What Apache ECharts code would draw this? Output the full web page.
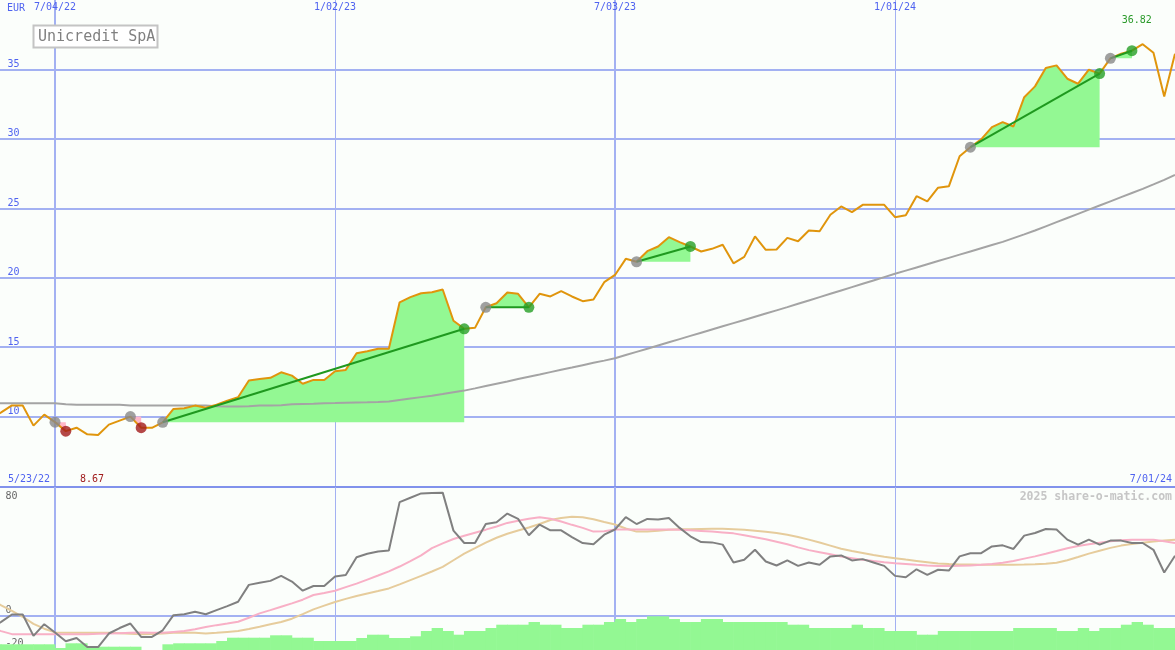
<!DOCTYPE html>
<html><head><meta charset="utf-8">
<script src="https://cdn.jsdelivr.net/npm/echarts@6/dist/echarts.min.js"></script>
<style>html,body{margin:0;padding:0;background:#fbfefb}#c{width:1175px;height:650px}</style>
</head><body><div id="c"></div>
<script>
const stockName = 'Unicredit SpA';
const currency = 'EUR';
const watermark = '2025 share-o-matic.com';
const dates = ['5/23/22','5/30/22','6/06/22','6/13/22','6/20/22','6/27/22','7/04/22','7/11/22','7/18/22','7/25/22','8/01/22','8/08/22','8/15/22','8/22/22','8/29/22','9/05/22','9/12/22','9/19/22','9/26/22','10/03/22','10/10/22','10/17/22','10/24/22','10/31/22','11/07/22','11/14/22','11/21/22','11/28/22','12/05/22','12/12/22','12/19/22','12/26/22',
'1/02/23','1/09/23','1/16/23','1/23/23','1/30/23','2/06/23','2/13/23','2/20/23','2/27/23','3/06/23','3/13/23','3/20/23','3/27/23','4/03/23','4/10/23','4/17/23','4/24/23','5/01/23','5/08/23','5/15/23','5/22/23','5/29/23','6/05/23','6/12/23','6/19/23','6/26/23',
'7/03/23','7/10/23','7/17/23','7/24/23','7/31/23','8/07/23','8/14/23','8/21/23','8/28/23','9/04/23','9/11/23','9/18/23','9/25/23','10/02/23','10/09/23','10/16/23','10/23/23','10/30/23','11/06/23','11/13/23','11/20/23','11/27/23','12/04/23','12/11/23','12/18/23','12/25/23',
'1/01/24','1/08/24','1/15/24','1/22/24','1/29/24','2/05/24','2/12/24','2/19/24','2/26/24','3/04/24','3/11/24','3/18/24','3/25/24','4/01/24','4/08/24','4/15/24','4/22/24','4/29/24','5/06/24','5/13/24','5/20/24','5/27/24','6/03/24','6/10/24','6/17/24','6/24/24','7/01/24'];
const price = [9.9,10.3,10.8,10.8,9.35,10.14,9.6,8.95,9.2,8.72,8.67,9.42,9.71,10.0,9.2,9.19,9.59,10.55,10.6,10.79,10.63,10.85,11.15,11.39,12.6,12.7,12.79,13.19,12.95,12.36,12.64,12.64,
13.26,13.36,14.56,14.7,14.88,14.88,18.23,18.6,18.88,18.96,19.15,16.9,16.32,16.39,17.87,18.16,18.93,18.84,17.87,18.84,18.65,19.03,18.65,18.31,18.43,19.68,
20.2,21.36,21.15,21.91,22.25,22.92,22.56,22.25,21.89,22.08,22.37,21.04,21.5,22.97,22.01,22.03,22.87,22.63,23.4,23.35,24.53,25.13,24.72,25.25,25.25,25.25,
24.36,24.5,25.87,25.5,26.48,26.58,28.75,29.4,29.96,30.84,31.2,30.89,33.0,33.78,35.1,35.29,34.33,33.97,34.98,34.7,35.8,36.13,36.35,36.82,36.2,33.05,36.13];
const ma52 = [10.96,10.96,10.96,10.96,10.96,10.96,10.96,10.88,10.86,10.86,10.86,10.86,10.86,10.8,10.79,10.79,10.79,10.79,10.79,10.79,10.79,10.75,10.73,10.73,10.75,10.79,10.8,10.82,10.88,10.9,10.92,10.96,
10.97,11.0,11.02,11.03,11.05,11.08,11.2,11.3,11.4,11.5,11.62,11.75,11.87,12.03,12.2,12.37,12.53,12.7,12.87,13.03,13.2,13.37,13.53,13.7,13.87,14.03,
14.2,14.43,14.66,14.89,15.12,15.35,15.58,15.81,16.04,16.27,16.5,16.73,16.96,17.19,17.42,17.65,17.88,18.12,18.36,18.6,18.84,19.08,19.32,19.56,19.8,20.04,
20.28,20.51,20.74,20.97,21.2,21.43,21.66,21.89,22.12,22.35,22.58,22.85,23.12,23.4,23.7,24.0,24.3,24.6,24.9,25.2,25.5,25.8,26.1,26.4,26.72,27.05,27.4];
const osc = [-8,-3.8,0.8,0.8,-12.5,-5.2,-10.4,-15.8,-13.75,-19.4,-19.4,-11,-7.6,-4.8,-13.1,-13.1,-9,0.4,1,2.5,1,3.5,6,8.75,19.2,20.5,21.7,24.8,21.25,15.6,18.5,18.5,
24.4,25.4,36.4,38.5,40,40.6,70.6,73.3,76,76.3,76.5,52.9,45.2,45.2,57,58.1,63.5,60.2,50,56.7,53.1,53.1,48.9,45.2,44.4,50.4,
53.6,61.25,57,60.2,59.8,60.8,54.6,49.4,45.8,45.6,44.2,33.1,34.8,41,33.75,31.25,34.4,31,33.1,31.7,36.9,37.5,34.4,35.2,33.1,31,
24.8,23.9,28.9,25.4,28.6,28.1,36.9,38.9,38.9,43.1,43.75,41.5,49.8,51.4,53.9,53.6,47.3,44.2,47.3,44.2,46.7,46.7,45.2,45.2,41,26.9,37.3];
const oscFast = [-7.5,-9.5,-11.4,-11.4,-11.4,-11.4,-11.4,-11.4,-11.4,-11.4,-11.2,-11,-10.8,-10.6,-10.4,-10.6,-10.6,-10,-9.4,-8.4,-7,-5.8,-4.8,-3.7,-1.2,1.5,3.5,5.6,7.7,10,12.9,14.2,
15.6,17.8,20,22.5,25,27.6,30.6,34,37.5,42,45,47.7,49.7,51.6,53.5,55.5,57.7,59,60.3,61.25,60.3,58.6,56.5,54.6,52.3,52.5,
53.6,53.6,53.6,53.6,53.6,53.6,53.4,53.1,52.7,52.3,51.8,51.2,50,48.8,47.5,46,44.4,42.5,40.8,39.5,38.2,36.8,35.8,34.8,34,33.3,
32.7,32.2,31.7,31.3,31,31,31.1,31.3,31.7,32.2,33,34,35.5,36.9,38.5,40.2,42,43.4,44.5,45.4,46.3,46.9,47.2,47.3,47.3,46.3,45.2];
const oscSlow = [10,6.5,3,-0.6,-5,-8,-10.3,-10.6,-10.6,-10.6,-10.6,-10.6,-10.8,-11.2,-11.5,-11.3,-11,-10.6,-10.4,-10.6,-11,-10.6,-10,-9.4,-8.2,-6.8,-5.3,-3.9,-1.8,1,4,6.3,
8.6,10.5,12.3,13.9,15.4,17,19.5,22.2,24.8,27.5,30.4,34.5,38.6,42,45.5,48.5,51,53,54.8,57,59.5,60.8,61.5,61.2,60,58.3,
56.7,54.2,52.3,52.3,52.8,53.4,53.7,53.8,53.9,54,54,53.8,53.4,52.9,52.2,51.4,50.4,49,47.3,45.5,43.6,41.6,40.2,39,37.8,36.7,
35.8,34.9,34.1,33.3,32.5,32.1,31.9,31.8,31.7,31.7,31.7,31.7,31.8,32,32.4,33,34.5,36.5,38.6,40.4,42.2,43.6,44.6,45.4,46.2,46.8,47.3];
const volume = [5.7,5.7,5.7,5.7,5.7,5.7,2,6.7,6.7,3.3,3.3,3.3,3.3,3.3,0,0,5.7,6.7,6.7,6.7,6.7,9,12.3,12.3,12.3,12.3,14.7,14.7,12.3,12.3,9,9,9,9,12,15.3,15.3,12,12,13.7,19,22,19,15.3,19,19,22,25.3,25.3,25.3,28,25.3,25.3,22,22,25.3,25.3,28,31,28,31,33.7,33.7,31,28,28,31,31,28,28,28,28,28,28,25.3,25.3,22,22,22,22,25.3,22,22,19,19,19,15.3,15.3,19,19,19,19,19,19,19,22,22,22,22,19,19,22,19,22,22,25.3,28,25.3,22,22,22];
const labelDates = ['7/04/22','1/02/23','7/03/23','1/01/24'];
const thickDates = ['7/04/22','7/03/23'];
const thinDates = ['1/02/23','1/01/24'];
const gainRuns = [[16,44],[46,50],[60,65],[91,103],[104,106]];
const lossRuns = [[6,7],[13,14]];

const FONT = 'DejaVu Sans Mono';
const BLUE = '#4f63f0';
const GRIDC = '#a3b1f2';
const BORDERC = '#8192ec';
const TR = 'rgba(0,0,0,0)';

const chart = echarts.init(document.getElementById('c'), null, {renderer: 'canvas'});

function catAxis(grid, pos, lineDates, width, showLabel) {
  return {
    gridIndex: grid, type: 'category', data: dates, boundaryGap: false, position: pos,
    axisLine: {show: false}, axisTick: {show: false},
    axisLabel: showLabel ? {show: true, inside: true, margin: 2, color: BLUE, fontFamily: FONT, fontSize: 10,
      interval: (i, v) => labelDates.includes(v)} : {show: false},
    splitLine: {show: true, interval: (i, v) => lineDates.includes(v), lineStyle: {color: GRIDC, width: width}}
  };
}

const series = [];
series.push({type: 'bar', xAxisIndex: 4, yAxisIndex: 3, data: volume, barWidth: 11.4,
  itemStyle: {color: '#93f893'}, silent: true, z: 1});
series.push({type: 'line', xAxisIndex: 2, yAxisIndex: 1, data: oscSlow, symbol: 'none', lineStyle: {color: '#e6cc9c', width: 2}, z: 2});
series.push({type: 'line', xAxisIndex: 2, yAxisIndex: 1, data: oscFast, symbol: 'none', lineStyle: {color: '#f8b0c6', width: 2}, z: 3});
series.push({type: 'line', xAxisIndex: 2, yAxisIndex: 1, data: osc, symbol: 'none', lineStyle: {color: '#808080', width: 2}, z: 4});

function runSeries(run, k, color) {
  const s = run[0], e = run[1], base = price[s];
  const b = dates.map((d, i) => (i >= s && i <= e) ? base : null);
  const d = dates.map((dd, i) => (i >= s && i <= e) ? +(price[i] - base).toFixed(3) : null);
  series.push({type: 'line', xAxisIndex: 0, yAxisIndex: 0, data: b, stack: 'run' + k, stackStrategy: 'all',
    symbol: 'none', lineStyle: {opacity: 0}, silent: true, z: 1});
  series.push({type: 'line', xAxisIndex: 0, yAxisIndex: 0, data: d, stack: 'run' + k, stackStrategy: 'all',
    symbol: 'none', lineStyle: {opacity: 0}, areaStyle: {color: color, opacity: 1}, silent: true, z: 1});
}
gainRuns.forEach((r, k) => runSeries(r, 'g' + k, '#93f893'));
lossRuns.forEach((r, k) => runSeries(r, 'l' + k, '#ffb6c8'));

series.push({type: 'line', xAxisIndex: 0, yAxisIndex: 0, data: ma52, symbol: 'none', lineStyle: {color: '#a4a4a4', width: 2}, z: 3});
series.push({type: 'line', xAxisIndex: 0, yAxisIndex: 0, data: price, symbol: 'none', lineStyle: {color: '#e0950c', width: 2}, z: 4,
  markPoint: {symbol: 'circle', symbolSize: 1, itemStyle: {color: TR}, silent: true,
    label: {show: true, position: 'inside', fontFamily: FONT, fontSize: 10, formatter: p => p.value.toFixed(2)},
    data: [{type: 'max', label: {color: '#2a9a2a', offset: [-6, -24]}}, {type: 'min', label: {color: '#a01c1c', offset: [-6, 44]}}]}});
gainRuns.forEach(r => series.push({type: 'line', xAxisIndex: 0, yAxisIndex: 0,
  data: [[r[0], price[r[0]]], [r[1], price[r[1]]]], symbol: 'none', lineStyle: {color: '#1f991f', width: 2}, z: 5}));

const starts = gainRuns.concat(lossRuns).map(r => [r[0], price[r[0]]]);
const gainEnds = gainRuns.map(r => [r[1], price[r[1]]]);
const lossEnds = lossRuns.map(r => [r[1], price[r[1]]]);
series.push({type: 'scatter', xAxisIndex: 0, yAxisIndex: 0, data: starts, symbolSize: 11, itemStyle: {color: '#888888'}, z: 6});
series.push({type: 'scatter', xAxisIndex: 0, yAxisIndex: 0, data: gainEnds, symbolSize: 11, itemStyle: {color: '#259f25'}, z: 6});
series.push({type: 'scatter', xAxisIndex: 0, yAxisIndex: 0, data: lossEnds, symbolSize: 11, itemStyle: {color: '#a31a1a'}, z: 6});

const option = {
  animation: false,
  backgroundColor: '#fbfefb',
  grid: [
    {left: -9.6, top: 0, width: 1184.6, height: 486, outerBoundsMode: 'none', containLabel: false},
    {left: -9.6, top: 487, width: 1184.6, height: 161, outerBoundsMode: 'none', containLabel: false},
    {left: -4.2, top: 488, width: 1184.6, height: 162, outerBoundsMode: 'none', containLabel: false}
  ],
  xAxis: [
    catAxis(0, 'top', thickDates, 2, true),
    catAxis(0, 'bottom', thinDates, 1, false),
    catAxis(1, 'top', thickDates, 2, false),
    catAxis(1, 'bottom', thinDates, 1, false),
    {gridIndex: 2, type: 'category', data: dates, boundaryGap: false, show: false}
  ],
  yAxis: [
    {gridIndex: 0, type: 'value', position: 'left', min: 5, max: 40, interval: 5,
      axisLine: {show: false}, axisTick: {show: false},
      axisLabel: {inside: true, margin: 17, verticalAlign: 'bottom', color: BLUE, fontFamily: FONT, fontSize: 10,
        formatter: v => (v >= 10 && v <= 35) ? String(v) : ''},
      splitLine: {lineStyle: {width: 2, color: [TR, GRIDC, GRIDC, GRIDC, GRIDC, GRIDC, GRIDC, TR]}}},
    {gridIndex: 1, type: 'value', position: 'left', min: -20, max: 80, interval: 20,
      axisLine: {show: false}, axisTick: {show: false},
      axisLabel: {inside: true, margin: 15, verticalAlign: 'bottom', color: '#666', fontFamily: FONT, fontSize: 10,
        formatter: v => (v === 0 || v === -20) ? String(v) : ''},
      splitLine: {lineStyle: {width: 2, color: [TR, GRIDC, TR, TR, TR, BORDERC]}}},
    {gridIndex: 1, type: 'value', position: 'left', offset: 0, min: -20, max: 80, interval: 20,
      axisLine: {show: false}, axisTick: {show: false}, splitLine: {show: false},
      axisLabel: {inside: true, margin: 15, verticalAlign: 'top', padding: [4, 0, 0, 0], color: '#666', fontFamily: FONT, fontSize: 10,
        formatter: v => v === 80 ? String(v) : ''}},
    {gridIndex: 2, type: 'value', min: 0, max: 162, show: false}
  ],
  graphic: [
    {type: 'text', left: 7, top: 3, z: 100, style: {text: currency, fill: BLUE, font: '10px "DejaVu Sans Mono"'}},
    {type: 'rect', shape: {x: 33.5, y: 25.5, width: 124, height: 22}, z: 100,
      style: {fill: '#ffffff', stroke: '#c4c4c4', lineWidth: 2}},
    {type: 'text', x: 38, y: 37, z: 101, style: {text: stockName, fill: '#808080', font: '15px "DejaVu Sans Mono"', verticalAlign: 'middle'}},
    {type: 'text', x: 8, y: 479, z: 100, style: {text: dates[0], fill: BLUE, font: '10px "DejaVu Sans Mono"', verticalAlign: 'middle'}},
    {type: 'text', x: 1172, y: 479, z: 100, style: {text: dates[dates.length - 1], fill: BLUE, font: '10px "DejaVu Sans Mono"', verticalAlign: 'middle', align: 'right'}},
    {type: 'text', x: 1172, y: 497, z: 100, style: {text: watermark, fill: '#c6c6c6', font: 'bold 11.5px "DejaVu Sans Mono"', verticalAlign: 'middle', align: 'right'}}
  ],
  series: series
};
chart.setOption(option);
</script></body></html>
